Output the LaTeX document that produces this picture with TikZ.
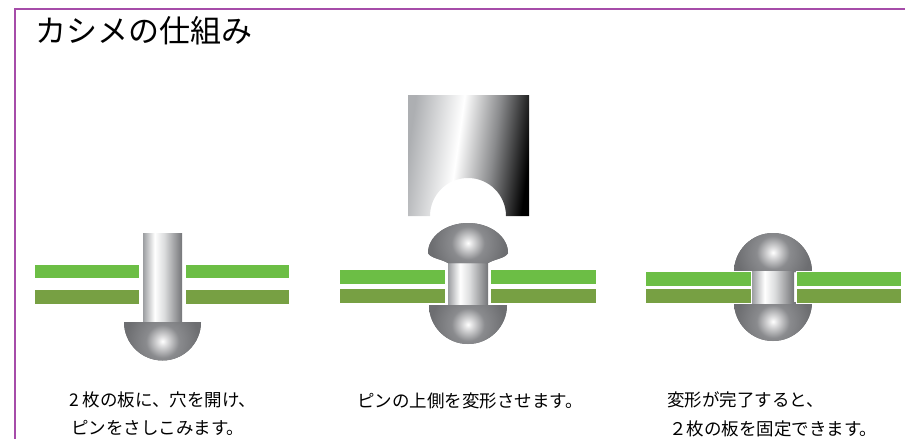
\documentclass[tikz,border=0pt]{standalone}
\usepackage{fontspec}
\usepackage{xcolor}
\usepackage{tikz}
\setmainfont{Noto Sans CJK JP}
\definecolor{kframe}{HTML}{A64CA9}
\definecolor{kgreen}{HTML}{6CBE45}
\definecolor{kgreendk}{HTML}{77A043}
\definecolor{kshankl}{HTML}{9C9EA1}
\definecolor{kshankm}{HTML}{DCDDDE}
\definecolor{kshankr}{HTML}{747578}
\definecolor{kheadlt}{HTML}{E4E4E5}
\definecolor{kheadmid}{HTML}{8A8B8E}
\definecolor{kheadgray}{HTML}{6D6E71}
\definecolor{kdiel}{HTML}{ADAFB2}
\definecolor{kdiem}{HTML}{8A8B8D}

% steel looks for pin, head and die
\pgfdeclarehorizontalshading{pinshank}{100bp}{color(0bp)=(kshankl); color(25bp)=(kshankl);
  color(40bp)=(white); color(52bp)=(kshankm); color(75bp)=(kshankr); color(100bp)=(kshankr)}
\pgfdeclareradialshading{pinhead}{\pgfpoint{0bp}{0bp}}{color(0bp)=(white); color(2bp)=(kheadlt);
  color(9bp)=(kheadmid); color(20bp)=(kheadgray); color(50bp)=(kheadgray)}
\pgfdeclarehorizontalshading{diesteel}{100bp}{color(0bp)=(kdiel); color(25bp)=(kdiel);
  color(45bp)=(white); color(60bp)=(kdiem); color(75bp)=(black); color(100bp)=(black)}

\tikzset{
  plate/.style={fill=kgreen,draw=white,line width=0.8pt},
  platedk/.style={fill=kgreendk,draw=white,line width=0.8pt},
  shank/.style={shading=pinshank},
  head/.style={fill=kheadgray,path picture={\shade[shading=pinhead] (path picture bounding box.center) circle (46);}},
  die/.style={shading=diesteel,shading angle=-8},
  caption/.style={anchor=base west,inner sep=0pt,font=\fontsize{17.5}{20}\selectfont},
}

\begin{document}
\begin{tikzpicture}[x=1pt,y=-1pt]
\useasboundingbox (0,0) rectangle (905,439);
\draw[kframe,line width=2.4pt] (15,439) -- (15,9) -- (905,9);
\node[anchor=base west,inner sep=0pt,font=\fontsize{31}{36}\selectfont] (title) at (35,42) {カシメの仕組み};

% step 1: pin pushed through the hole
\path[plate] (34,264) rectangle (139,278);
\path[plate] (185,264) rectangle (289,278);
\path[platedk] (34,289) rectangle (139,304);
\path[platedk] (185,289) rectangle (289,304);
\shade[shank] (143,233) rectangle (182,323);
\path[head] (124,322) arc (180:0:38.5) -- cycle;

% step 2: die presses the top of the pin
\shade[die] (408,95) -- (529,95) -- (529,216) -- (506,216) arc (0:-180:38) -- (408,216) -- cycle;
\shade[shank] (448,258) rectangle (488,307);
\path[head] (448,263) .. controls (441,259) and (430,258) .. (428,253) arc (180:360:40 and 30)
  .. controls (506,258) and (495,259) .. (488,263) -- cycle;
\path[head] (429,305) arc (180:0:39) -- cycle;
\path[plate] (339,269) rectangle (445,284);
\path[plate] (490,269) rectangle (596,284);
\path[platedk] (339,288) rectangle (445,303);
\path[platedk] (490,288) rectangle (596,303);

% step 3: both heads formed
\path[head] (734,272) arc (180:360:39) -- cycle;
\path[head] (734,302) arc (180:0:39) -- cycle;
\shade[shank] (752,271) rectangle (794,303);
\path[plate] (645,271) rectangle (751,286);
\path[plate] (796,271) rectangle (901,286);
\path[platedk] (645,288) rectangle (751,303);
\path[platedk] (796,288) rectangle (901,303);

\node[caption] (cap1a) at (69,406) {2 枚の板に、穴を開け、};
\node[caption] (cap1b) at (71,434) {ピンをさしこみます。};
\node[caption] (cap2) at (357,407) {ピンの上側を変形させます。};
\node[caption] (cap3a) at (667,406) {変形が完了すると、};
\node[caption] (cap3b) at (669,435) {２枚の板を固定できます。};
\end{tikzpicture}
\end{document}
